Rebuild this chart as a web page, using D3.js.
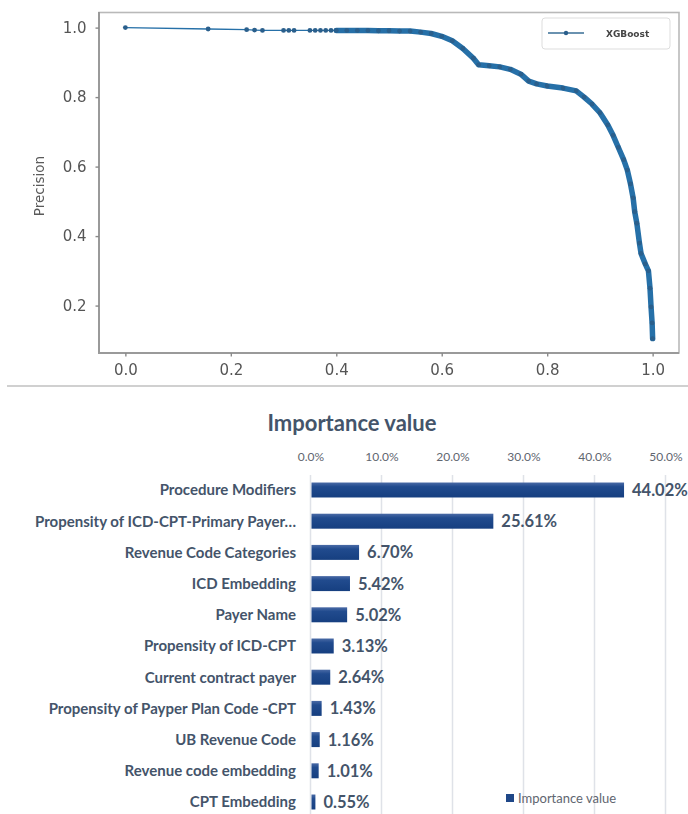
<!doctype html>
<html>
<head>
<meta charset="utf-8">
<title>Precision-Recall and Importance</title>
<style>
  html, body { margin: 0; padding: 0; background: #fff; }
  svg { display: block; }
</style>
</head>
<body>
<div id="here"></div>
<script src="https://d3js.org/d3.v7.min.js"></script>
<script>
// precision-recall curve (XGBoost)
var recall = [0.0, 0.157, 0.23, 0.245, 0.26, 0.30, 0.31, 0.32, 0.35, 0.36, 0.37, 0.38, 0.39,
  0.40, 0.42, 0.44, 0.46, 0.48, 0.50, 0.52, 0.54, 0.56, 0.58, 0.60, 0.62, 0.64, 0.66, 0.67,
  0.69, 0.71, 0.73, 0.75, 0.765, 0.78, 0.80, 0.83, 0.855, 0.87, 0.885, 0.90, 0.915, 0.925,
  0.935, 0.945, 0.952, 0.958, 0.963, 0.966, 0.970, 0.975, 0.978, 0.986, 0.992, 0.995, 0.997,
  0.999, 1.0];
var precision = [1.0, 0.996, 0.994, 0.993, 0.992, 0.992, 0.992, 0.992, 0.992, 0.992, 0.992, 0.992, 0.992,
  0.992, 0.992, 0.992, 0.992, 0.991, 0.991, 0.990, 0.990, 0.987, 0.983, 0.975, 0.962, 0.940, 0.912, 0.893,
  0.890, 0.887, 0.880, 0.866, 0.846, 0.838, 0.832, 0.826, 0.818, 0.800, 0.780, 0.755, 0.720, 0.690,
  0.655, 0.620, 0.590, 0.550, 0.510, 0.470, 0.437, 0.380, 0.350, 0.320, 0.300, 0.250, 0.196,
  0.150, 0.105];
var prTicksX = [0.0, 0.2, 0.4, 0.6, 0.8, 1.0];
var prTicksY = [0.2, 0.4, 0.6, 0.8, 1.0];

// feature importance (%)
var features = ["Procedure Modifiers", "Propensity of ICD-CPT-Primary Payer\u2026", "Revenue Code Categories",
  "ICD Embedding", "Payer Name", "Propensity of ICD-CPT", "Current contract payer",
  "Propensity of Payper Plan Code -CPT", "UB Revenue Code", "Revenue code embedding", "CPT Embedding"];
var importance = [44.02, 25.61, 6.70, 5.42, 5.02, 3.13, 2.64, 1.43, 1.16, 1.01, 0.55];
var impTicks = [0, 10, 20, 30, 40, 50];

var W = 688, H = 814;
var svg = d3.select("#here").append("svg").attr("width", W).attr("height", H);
var defs = svg.append("defs");
defs.append("filter").attr("id", "soft")
  .append("feGaussianBlur").attr("stdDeviation", 0.45);
var grad = defs.append("linearGradient").attr("id", "barfill")
  .attr("x1", 0).attr("y1", 0).attr("x2", 0).attr("y2", 1);
grad.append("stop").attr("offset", "0%").attr("stop-color", "#4a6aa6");
grad.append("stop").attr("offset", "28%").attr("stop-color", "#214b8e");
grad.append("stop").attr("offset", "100%").attr("stop-color", "#163f80");

// ---------- top: precision / recall ----------
var prg = svg.append("g").attr("filter", "url(#soft)");
var x = d3.scaleLinear().domain([-0.05, 1.05]).range([99, 679]);
var y = d3.scaleLinear().domain([0.0635, 1.0435]).range([353, 12.5]);
var blue = "#2670a8";

// box
prg.append("rect").attr("x", 99).attr("y", 12.5).attr("width", 580).attr("height", 340.5)
  .attr("fill", "#fff").attr("stroke", "#b9b9b9").attr("stroke-width", 1.6);
prg.append("line").attr("x1", 99).attr("x2", 99).attr("y1", 12).attr("y2", 354)
  .attr("stroke", "#9a9a9a").attr("stroke-width", 2);
prg.append("line").attr("x1", 98).attr("x2", 679).attr("y1", 353).attr("y2", 353)
  .attr("stroke", "#9a9a9a").attr("stroke-width", 2);

var xa = prg.append("g").attr("transform", "translate(0,353)")
  .call(d3.axisBottom(x).tickValues(prTicksX).tickFormat(d3.format(".1f")).tickSize(3.5).tickPadding(8));
var ya = prg.append("g").attr("transform", "translate(99,0)")
  .call(d3.axisLeft(y).tickValues(prTicksY).tickFormat(d3.format(".1f")).tickSize(3.5).tickPadding(9));
[xa, ya].forEach(function(a) {
  a.select(".domain").remove();
  a.selectAll("line").attr("stroke", "#8a8a8a").attr("stroke-width", 1.4);
  a.selectAll("text").attr("fill", "#555").attr("font-family", "DejaVu Sans")
    .attr("font-size", 15);
});

prg.append("text").attr("transform", "translate(44,186) rotate(-90)")
  .attr("text-anchor", "middle").attr("fill", "#5a5a5a")
  .attr("font-family", "DejaVu Sans").attr("font-size", 13.5).text("Precision");

var pts = recall.map(function(r, i) { return [r, precision[i]]; });
var line = d3.line().x(function(d) { return x(d[0]); }).y(function(d) { return y(d[1]); });
prg.append("path").datum(pts).attr("d", line)
  .attr("fill", "none").attr("stroke", blue).attr("stroke-width", 1.3);
// markers pile up where points are dense; draw that part as a heavy stroke
prg.append("path").datum(pts.filter(function(d) { return d[0] >= 0.40; })).attr("d", line)
  .attr("fill", "none").attr("stroke", blue).attr("stroke-width", 5.5)
  .attr("stroke-linecap", "round").attr("stroke-linejoin", "round");
prg.selectAll("circle.pt").data(pts).enter().append("circle").attr("class", "pt")
  .attr("cx", function(d) { return x(d[0]); }).attr("cy", function(d) { return y(d[1]); })
  .attr("r", 2.4).attr("fill", "#2a5f8c");

// legend
var lg = prg.append("g").attr("transform", "translate(542,18)");
lg.append("rect").attr("width", 128).attr("height", 31).attr("rx", 3)
  .attr("fill", "#fff").attr("stroke", "#dddddd");
lg.append("line").attr("x1", 6).attr("x2", 42).attr("y1", 15).attr("y2", 15)
  .attr("stroke", "#3a6e96").attr("stroke-width", 1.4);
lg.append("circle").attr("cx", 24).attr("cy", 15).attr("r", 2.2).attr("fill", "#2a5f8c");
lg.append("text").attr("x", 64).attr("y", 19).attr("fill", "#444")
  .attr("font-family", "DejaVu Sans").attr("font-size", 9).attr("font-weight", "bold").text("XGBoost");

// frame line under the first picture
svg.append("line").attr("x1", 7).attr("x2", 688).attr("y1", 386).attr("y2", 386)
  .attr("stroke", "#d0d0d0").attr("stroke-width", 2);

// ---------- bottom: importance bars ----------
var ink = "#44546a";
var bx = d3.scaleLinear().domain([0, 50]).range([310.5, 665.5]);
var by = d3.scaleBand().domain(features).range([474.4, 817.6]).paddingInner(0.52).paddingOuter(0.26);
var bot = svg.append("g").attr("font-family", "Lato");

bot.append("text").attr("x", 352).attr("y", 431).attr("text-anchor", "middle")
  .attr("fill", ink).attr("font-size", 22).attr("font-weight", "bold").text("Importance value");

bot.selectAll("line.grid").data(impTicks).enter().append("line").attr("class", "grid")
  .attr("x1", function(d) { return bx(d); }).attr("x2", function(d) { return bx(d); })
  .attr("y1", 475).attr("y2", H)
  .attr("stroke", "#dfe2e8").attr("stroke-width", 1.5);

var ta = bot.append("g").attr("transform", "translate(0,466)")
  .call(d3.axisTop(bx).tickValues(impTicks).tickFormat(function(d) { return d.toFixed(1) + "%"; }).tickSize(0).tickPadding(5));
ta.select(".domain").remove();
ta.selectAll("text").attr("fill", "#5f6670").attr("font-family", "Lato").attr("font-size", 12);

bot.selectAll("rect.bar").data(importance).enter().append("rect").attr("class", "bar")
  .attr("x", bx(0) + 1)
  .attr("y", function(d, i) { return by(features[i]); })
  .attr("width", function(d) { return bx(d) - bx(0); })
  .attr("height", by.bandwidth())
  .attr("fill", "url(#barfill)");

bot.selectAll("text.val").data(importance).enter().append("text").attr("class", "val")
  .attr("x", function(d) { return bx(d) + 9; })
  .attr("y", function(d, i) { return by(features[i]) + by.bandwidth() / 2; })
  .attr("dy", "0.36em").attr("fill", ink).attr("font-size", 16.5).attr("font-weight", "bold")
  .text(function(d) { return d.toFixed(2) + "%"; });

bot.selectAll("text.cat").data(features).enter().append("text").attr("class", "cat")
  .attr("x", 296)
  .attr("y", function(d) { return by(d) + by.bandwidth() / 2; })
  .attr("dy", "0.36em").attr("text-anchor", "end").attr("fill", ink)
  .attr("font-size", 15).attr("font-weight", "bold")
  .text(function(d) { return d; });

// legend
bot.append("rect").attr("x", 506).attr("y", 794).attr("width", 8).attr("height", 8).attr("fill", "#1f4788");
bot.append("text").attr("x", 518).attr("y", 802.5).attr("fill", "#5f6670").attr("font-size", 13)
  .text("Importance value");
</script>
</body>
</html>
